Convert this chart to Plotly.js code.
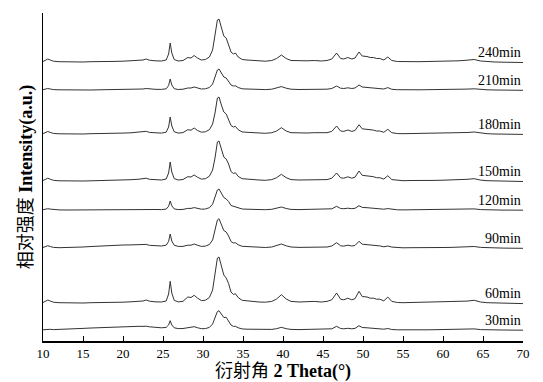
<!DOCTYPE html>
<html>
<head>
<meta charset="utf-8">
<script src="https://cdn.plot.ly/plotly-3.0.1.min.js"></script>
<style>html,body{margin:0;padding:0;background:#fff;}#chart{width:543px;height:382px;}</style>
</head>
<body>
<div id="chart"></div>
<script>
// 2θ positions (degrees)
const twoTheta = [10,10.3,10.6,10.9,11.3,12,13,14,15,16,
  17,18,19,20,21,22,22.5,22.9,23.3,24,
  24.8,25.4,25.7,25.9,26.1,26.4,26.9,27.5,28.1,28.5,
  28.9,29.3,29.8,30.3,30.8,31.2,31.5,31.8,32.0,32.3,
  32.6,32.9,33.2,33.5,33.8,34.05,34.4,34.9,35.5,36.2,
  37,37.8,38.6,39.2,39.8,40.4,41.0,42.0,43,43.9,
  44.8,45.5,46.1,46.7,47.2,47.6,48.1,48.6,49.0,49.5,
  49.9,50.5,50.9,51.3,51.7,52.1,52.6,53.1,53.6,54.3,
  55,56,57,58,59,60,61,62,63,63.9,
  64.7,65.5,66.5,67.5,68.5,69.5,70];

const seriesNames = ["30min","60min","90min","120min","150min","180min","210min","240min"];
// vertical stacking offsets (a.u.)
const offsets = [11, 38, 93, 131, 160, 207, 251, 279];

const i30 = [0.2,0.6,1.0,0.7,0.4,0.5,0.8,1.2,1.6,2.0,
  2.4,2.8,3.0,3.3,3.5,3.7,3.6,3.8,3.2,2.6,
  2.2,2.6,5,9.3,5,2.2,1.4,1.5,2.2,2.3,
  3.3,2.3,1.3,1.4,2.6,6,12,18.5,19.3,15.5,
  12.5,12.7,9,5,3.6,3.7,2.2,1.1,0.8,0.6,
  0.4,0.3,0.6,1.3,2.7,1.3,0.6,0.4,0.5,0.6,
  0.4,0.6,1.2,3.7,1.5,1.2,1.7,1.2,1.6,4.3,
  2.5,2.2,1.8,1.8,1.4,1.3,0.8,1.5,0.5,0.2,
  0.1,0.2,0.1,0.2,0.3,0.4,0.5,0.6,0.8,1.1,
  0.4,0.1,0,0,-0.1,-0.1,-0.2];
const i60 = [0.5,1.6,3,2,0.8,0.3,0,0.2,0,0.3,
  0.3,0.5,0.6,0.8,1.2,1.7,2,3,1.8,1.2,
  1,2,9,21.7,10,2.7,1.1,1.7,6,5.5,
  7.7,5,2.4,2.8,5.5,13,27,45,46,36.5,
  28,25,19.5,11,8.5,9.3,5.4,2.7,2.1,1.6,
  1,0.8,1.6,4,8.3,4,1.6,1,1.3,1.6,
  1,1.6,3.2,10,3.8,3.2,4.8,3.2,4.3,11.7,
  6.5,6,4.8,4.8,3.8,3.8,2.1,6,1.6,0.5,
  0.3,0.5,0.3,0.5,0.6,0.8,1,1.3,1.9,2.7,
  1,0.3,0,-0.2,-0.4,-0.5,-0.6];
const i90 = [0.5,1.3,2.3,1.5,0.6,0.3,0.3,0.6,1.0,1.5,
  2,2.4,2.8,3.0,3.1,3.0,3.1,3.6,2.7,2.2,
  2,2.8,6.5,14,7,2.8,1.6,1.6,2.8,2.8,
  4,2.8,1.6,1.9,3.5,8,17,28,29.3,23,
  17.5,16,12,6.5,5,5.3,3.2,1.7,1.3,1,
  0.7,0.5,1,2.2,4,2.2,1,0.6,0.7,1,
  0.6,1,2,5.3,2.2,1.9,2.8,2,2.5,6.7,
  3.8,3.5,2.8,2.8,2.2,2.1,1.2,2,0.9,0.3,
  0.2,0.3,0.2,0.3,0.4,0.5,0.6,0.7,1.1,1.5,
  0.6,0.2,0,-0.1,-0.2,-0.3,-0.3];
const i120 = [0.3,0.7,1.3,0.9,0.4,0.1,0,0.1,0,0.1,
  0.1,0.2,0.3,0.3,0.4,0.6,0.7,1.0,0.7,0.5,
  0.4,0.9,3.7,9,4.2,1.1,0.4,0.6,1.6,1.6,
  2.4,1.6,0.8,1,2.3,5.8,12,20,21,16.5,
  12.5,11,8.5,4.5,3.6,3.4,2,1,0.8,0.6,
  0.4,0.3,0.7,1.5,3,1.5,0.6,0.4,0.5,0.6,
  0.4,0.6,1.2,3.7,1.5,1.3,1.8,1.3,1.7,4.3,
  2.6,2.3,1.9,1.9,1.5,1.4,0.8,1.4,0.6,0.2,
  0.1,0.2,0.1,0.2,0.3,0.4,0.5,0.6,0.8,1.1,
  0.4,0.1,0,-0.1,-0.1,-0.2,-0.2];
const i150 = [0.5,1.5,2.8,1.8,0.7,0.2,0,0.1,0,0.2,
  0.3,0.6,0.8,1.0,1.3,1.8,2,2.8,1.7,1.2,
  1,2,8,19,9,2.4,1,1.5,4.3,4,
  6,3.8,1.9,2.3,4.8,11,23,39,40,32,
  24,22,17,9.5,7.5,8.3,4.6,2.3,1.8,1.4,
  1,0.7,1.4,3.3,6.7,3.3,1.4,1,1.1,1.4,
  1,1.4,2.8,8,3.2,2.8,4.2,2.8,3.8,10,
  5.7,5.2,4.3,4.3,3.3,3.3,1.9,5.3,1.4,0.5,
  0.3,0.5,0.3,0.5,0.6,0.8,1,1.1,1.7,2.3,
  0.9,0.3,0,-0.2,-0.3,-0.4,-0.5];
const i180 = [0.4,1.2,2.5,1.6,0.6,0.2,0,0.2,0,0.3,
  0.3,0.5,0.7,0.9,1.2,1.7,1.8,2.7,1.6,1.1,
  0.9,1.8,7,17,8,2.2,0.9,1.4,4.3,3.8,
  6,3.6,1.8,2.2,4.3,10,21,36,37,29,
  22,20,15,8.5,7,7.7,4.3,2.1,1.7,1.3,
  0.9,0.7,1.3,3,6.3,3,1.3,0.9,1,1.3,
  0.9,1.3,2.6,8,3,2.6,4,2.6,3.5,9.3,
  5.2,4.8,3.9,3.9,3,3,1.7,4.7,1.3,0.4,
  0.3,0.4,0.3,0.4,0.5,0.7,0.9,1,1.5,2,
  0.8,0.3,0,-0.2,-0.3,-0.3,-0.4];
const i210 = [0.3,0.8,1.5,1,0.4,0.2,0,0.1,0.2,0,
  0.2,0.3,0.3,0.5,0.6,0.9,1.0,1.5,1.0,0.7,
  0.6,1.2,4.5,11,5,1.3,0.5,0.8,2,2,
  3,2,1,1.2,2.5,6,12,20,21,17,
  13,12,9,5,4,4.2,2.5,1.2,1,0.7,
  0.5,0.4,0.8,1.8,3.4,1.8,0.8,0.5,0.6,0.8,
  0.5,0.8,1.5,4,1.8,1.5,2.2,1.5,2,5,
  3,2.7,2.2,2.2,1.8,1.7,1,2.4,0.7,0.3,
  0.1,0.3,0.2,0.3,0.3,0.4,0.5,0.6,0.9,1.2,
  0.5,0.2,0,-0.1,-0.1,-0.2,-0.3];
const i240 = [0.5,1.5,3,2,0.8,0.3,0,0.2,0,0.3,
  0.2,0.5,0.6,0.8,1.2,1.8,2.0,3.0,1.8,1.2,
  1.0,2.0,8,19,9,2.5,1.0,1.5,4.5,4,
  6.5,4,2,2.5,5,12,25,42,43,34,
  26,24,18,10,8,9,5,2.5,2,1.5,
  1,0.8,1.5,3.5,7,3.5,1.5,1,1.2,1.5,
  1,1.5,3,9,3.5,3,4.5,3,4,10,
  6,5.5,4.5,4.5,3.5,3.5,2,5,1.5,0.5,
  0.3,0.5,0.3,0.5,0.6,0.8,1,1.2,1.8,2.5,
  1,0.3,0,-0.2,-0.3,-0.4,-0.5];

const intensities = [i30, i60, i90, i120, i150, i180, i210, i240];
const xTicks = [10,15,20,25,30,35,40,45,50,55,60,65,70];

const serif = "Liberation Serif";
const titleFont = "Liberation Serif, Noto Sans CJK SC";

const traces = intensities.map((arr, k) => ({
  type: "scatter", mode: "lines",
  x: twoTheta,
  y: arr.map(v => v + offsets[k]),
  name: seriesNames[k],
  line: {color: "#333333", width: 1},
  hoverinfo: "skip"
}));

const annotations = seriesNames.map((nm, k) => ({
  x: 70, y: offsets[k], xref: "x", yref: "y",
  text: nm, showarrow: false, xanchor: "right", yanchor: "bottom",
  yshift: 0,
  font: {family: serif, size: 14, color: "#000"}
}));

const layout = {
  width: 543, height: 382,
  margin: {l: 43, r: 20, t: 13, b: 41},
  paper_bgcolor: "#fff", plot_bgcolor: "#fff",
  showlegend: false,
  font: {family: serif},
  xaxis: {
    range: [10, 70], tickvals: xTicks, ticktext: xTicks.map(String),
    ticks: "inside", ticklen: 5, tickwidth: 1, tickcolor: "#000",
    showline: true, linecolor: "#000", linewidth: 1.5,
    showgrid: false, zeroline: false,
    tickfont: {family: serif, size: 13, color: "#000"},
    title: {text: "衍射角 <b>2 Theta(°)</b>", font: {family: titleFont, size: 18, color: "#000"}, standoff: 2}
  },
  yaxis: {
    range: [0, 328], showticklabels: false, ticks: "",
    showline: true, linecolor: "#000", linewidth: 1.5,
    showgrid: false, zeroline: false,
    title: {text: "相对强度 <b>Intensity(a.u.)</b>", font: {family: titleFont, size: 18, color: "#000"}, standoff: 4}
  },
  annotations: annotations
};

Plotly.newPlot("chart", traces, layout, {staticPlot: true, displayModeBar: false});
</script>
</body>
</html>
